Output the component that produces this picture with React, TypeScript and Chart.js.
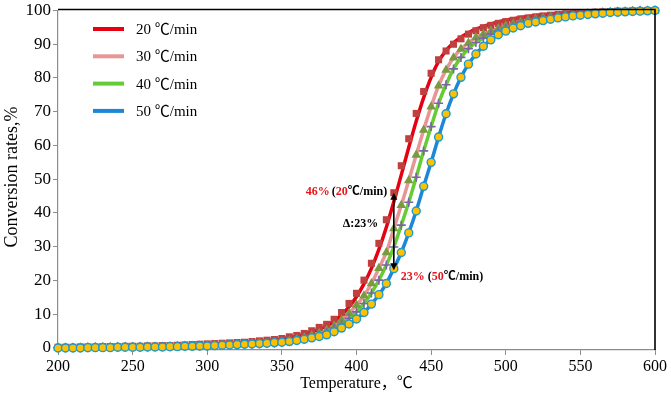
import React, { useEffect, useRef } from "react";
import { Chart, registerables } from "chart.js";

Chart.register(...registerables);

// ---------- data ----------
const temperatures = [
  200, 205, 210, 215, 220, 225, 230, 235, 240, 245, 250, 255, 260, 265, 270, 275, 280, 285, 290, 295, 300,
  305, 310, 315, 320, 325, 330, 335, 340, 345, 350, 355, 360, 365, 370, 375, 380, 385, 390, 395, 400,
  405, 410, 415, 420, 425, 430, 435, 440, 445, 450, 455, 460, 465, 470, 475, 480, 485, 490, 495, 500,
  505, 510, 515, 520, 525, 530, 535, 540, 545, 550, 555, 560, 565, 570, 575, 580, 585, 590, 595, 600,
];

// 20 ℃/min experimental (squares)
const rate20Exp = [
  0.2, 0.2, 0.2, 0.3, 0.3, 0.3, 0.4, 0.4, 0.4, 0.5, 0.5, 0.5, 0.6, 0.6, 0.7, 0.7, 0.8, 0.9, 1.0, 1.1, 1.2,
  1.3, 1.4, 1.5, 1.6, 1.7, 1.9, 2.1, 2.3, 2.5, 2.8, 3.3, 3.7, 4.3, 5.1, 6.1, 7.0, 8.5, 10.5, 13.2, 16.2,
  20.1, 25.1, 31, 38, 46, 54, 62, 69.5, 76, 81.4, 85.4, 88, 90, 91.6, 93, 94, 94.9, 95.6, 96.2, 96.7,
  97.1, 97.5, 97.8, 98.1, 98.4, 98.6, 98.8, 99, 99.1, 99.3, 99.4, 99.5, 99.6, 99.7, 99.8, 99.8, 99.9, 99.9, 100, 100,
];

// 20 ℃/min fitted line
const rate20Fit = [
  0.1, 0.1, 0.1, 0.2, 0.2, 0.2, 0.3, 0.3, 0.3, 0.4, 0.4, 0.4, 0.5, 0.5, 0.6, 0.6, 0.7, 0.8, 0.9, 1.0, 1.1,
  1.2, 1.3, 1.4, 1.5, 1.6, 1.8, 2.0, 2.2, 2.4, 2.7, 3.1, 3.5, 4.1, 4.8, 5.6, 6.5, 8.0, 9.8, 12.2, 15.2,
  19, 23.6, 29.2, 35.8, 43.3, 51.3, 59.4, 67.2, 74.2, 80.2, 84.9, 88.1, 90.4, 92.1, 93.4, 94.5, 95.3, 96, 96.6, 97.1,
  97.5, 97.9, 98.2, 98.5, 98.7, 98.9, 99.1, 99.2, 99.4, 99.5, 99.6, 99.7, 99.8, 99.8, 99.9, 99.9, 100, 100, 100, 100,
];

// 30 ℃/min (triangles + pink line)
const rate30 = [
  0.1, 0.1, 0.1, 0.1, 0.2, 0.2, 0.2, 0.2, 0.3, 0.3, 0.3, 0.3, 0.4, 0.4, 0.4, 0.5, 0.5, 0.6, 0.6, 0.7, 0.7,
  0.8, 0.9, 0.9, 1.0, 1.1, 1.2, 1.3, 1.4, 1.6, 1.8, 2.1, 2.5, 3.0, 3.6, 4.4, 5.3, 6.5, 8.3, 10.3, 12.7,
  15.5, 19.1, 23.6, 28.3, 35.4, 42.3, 49.6, 57.2, 64.6, 71.5, 77.7, 82.4, 86, 88.6, 90.4, 92, 93, 93.9, 94.7, 95.4,
  96, 96.5, 97, 97.4, 97.7, 98, 98.3, 98.5, 98.7, 98.9, 99.1, 99.2, 99.4, 99.5, 99.6, 99.7, 99.8, 99.9, 99.9, 100,
];

// 40 ℃/min (plus markers + green line)
const rate40 = [
  0.1, 0.1, 0.1, 0.1, 0.1, 0.2, 0.2, 0.2, 0.2, 0.3, 0.3, 0.3, 0.3, 0.4, 0.4, 0.4, 0.5, 0.5, 0.5, 0.6, 0.6,
  0.7, 0.8, 0.8, 0.9, 1.0, 1.1, 1.2, 1.3, 1.4, 1.6, 1.9, 2.2, 2.6, 3.1, 3.8, 4.6, 5.8, 7.1, 8.8, 10.7,
  13.2, 16.3, 20.1, 24.6, 29.9, 36.4, 43.2, 50.6, 58.4, 65.6, 72.5, 78, 82.7, 86.1, 88.7, 90.5, 91.8, 93, 93.9, 94.7,
  95.4, 96, 96.5, 97, 97.4, 97.8, 98.1, 98.4, 98.6, 98.8, 99, 99.2, 99.3, 99.5, 99.6, 99.7, 99.8, 99.9, 100, 100,
];

// 50 ℃/min (circles + blue line)
const rate50 = [
  0, 0, 0, 0, 0.1, 0.1, 0.1, 0.1, 0.2, 0.2, 0.2, 0.2, 0.3, 0.3, 0.3, 0.4, 0.4, 0.5, 0.5, 0.6, 0.6,
  0.7, 0.8, 0.9, 1.0, 1.1, 1.2, 1.3, 1.4, 1.6, 1.7, 1.9, 2.2, 2.6, 3.0, 3.4, 3.9, 4.8, 5.9, 7.1, 8.6,
  10.5, 13, 15.8, 19.1, 23.5, 28.3, 34.1, 40.6, 47.9, 55, 62.5, 69.4, 75.3, 80.2, 84.1, 87.1, 89.4, 91.3, 92.8, 93.9,
  94.8, 95.5, 96.2, 96.6, 97, 97.4, 97.8, 98.1, 98.4, 98.6, 98.8, 99, 99.2, 99.4, 99.5, 99.6, 99.7, 99.8, 99.9, 100,
];

const legendLabels = ["20 ℃/min", "30 ℃/min", "40 ℃/min", "50 ℃/min"];
const lineColors = ["#E60012", "#E89595", "#66CC33", "#1C87D6"];
const xTicks = [200, 250, 300, 350, 400, 450, 500, 550, 600];
const yTicks = [0, 10, 20, 30, 40, 50, 60, 70, 80, 90, 100];
const xTitle = "Temperature，℃";
const yTitle = "Conversion rates,%";
const annotTemp = 425;
const annotHigh = 46;
const annotLow = 23;

const SERIF = "'Liberation Serif', 'Times New Roman', 'Noto Sans CJK SC', serif";

function pts(values: number[]) {
  return temperatures.map((t, i) => ({ x: t, y: values[i] }));
}

function drawRuns(ctx: CanvasRenderingContext2D, x: number, y: number, runs: [string, string][]) {
  let cx = x;
  for (const [text, color] of runs) {
    ctx.fillStyle = color;
    ctx.fillText(text, cx, y);
    cx += ctx.measureText(text).width;
  }
}

const overlayPlugin = {
  id: "overlay",
  afterDraw(chart: any) {
    const { ctx, chartArea: a, scales } = chart;
    const xs = scales.x;
    const ys = scales.y;
    ctx.save();

    // top & right black frame
    ctx.strokeStyle = "#000";
    ctx.lineWidth = 1.6;
    ctx.beginPath();
    ctx.moveTo(a.left, a.top - 1);
    ctx.lineTo(a.right, a.top - 1);
    ctx.lineTo(a.right, a.bottom);
    ctx.stroke();

    // legend
    ctx.font = `15px ${SERIF}`;
    ctx.textBaseline = "middle";
    ctx.textAlign = "left";
    legendLabels.forEach((label, i) => {
      const ly = a.top + 18.5 + i * 27.3;
      ctx.strokeStyle = lineColors[i];
      ctx.lineWidth = 4;
      ctx.beginPath();
      ctx.moveTo(a.left + 35, ly);
      ctx.lineTo(a.left + 66, ly);
      ctx.stroke();
      ctx.fillStyle = "#000";
      ctx.fillText(label, a.left + 78, ly + 1);
    });

    // double-headed arrow
    const ax = xs.getPixelForValue(annotTemp);
    const y1 = ys.getPixelForValue(annotHigh);
    const y2 = ys.getPixelForValue(annotLow);
    ctx.strokeStyle = "#000";
    ctx.fillStyle = "#000";
    ctx.lineWidth = 1.6;
    ctx.beginPath();
    ctx.moveTo(ax, y1 + 5);
    ctx.lineTo(ax, y2 - 5);
    ctx.stroke();
    ctx.beginPath();
    ctx.moveTo(ax, y1);
    ctx.lineTo(ax - 3.5, y1 + 7);
    ctx.lineTo(ax + 3.5, y1 + 7);
    ctx.closePath();
    ctx.fill();
    ctx.beginPath();
    ctx.moveTo(ax, y2);
    ctx.lineTo(ax - 3.5, y2 - 7);
    ctx.lineTo(ax + 3.5, y2 - 7);
    ctx.closePath();
    ctx.fill();

    // annotation texts
    ctx.font = `bold 12px ${SERIF}`;
    ctx.textBaseline = "middle";
    const red = "#E8141C";
    drawRuns(ctx, ax - 88, y1 - 1, [[`${annotHigh}%`, red]]);
    drawRuns(ctx, ax - 62, y1 - 1, [["(", "#000"], ["20", red], ["℃/min)", "#000"]]);
    drawRuns(ctx, ax - 51, y1 + 31, [[`Δ:${annotHigh - annotLow}%`, "#000"]]);
    drawRuns(ctx, ax + 7, y2 + 7, [[`${annotLow}%`, red]]);
    drawRuns(ctx, ax + 34, y2 + 7, [["(", "#000"], ["50", red], ["℃/min)", "#000"]]);

    // axis titles
    ctx.fillStyle = "#000";
    ctx.textAlign = "center";
    ctx.font = `16px ${SERIF}`;
    ctx.fillText(xTitle, (a.left + a.right) / 2, 384);
    ctx.save();
    ctx.translate(12, 177);
    ctx.rotate(-Math.PI / 2);
    ctx.font = `18px ${SERIF}`;
    ctx.fillText(yTitle, 0, 0);
    ctx.restore();

    ctx.restore();
  },
};

export default function App() {
  const canvasRef = useRef<HTMLCanvasElement | null>(null);

  useEffect(() => {
    const canvas = canvasRef.current;
    if (!canvas) return;
    const lineBase = {
      type: "line" as const,
      showLine: true,
      pointRadius: 0,
      borderWidth: 3.5,
      tension: 0.25,
      fill: false,
      clip: false as any,
      order: 10,
    };
    const markerBase = {
      type: "line" as const,
      showLine: false,
      clip: false as any,
    };
    const chart = new Chart(canvas, {
      type: "line",
      data: {
        datasets: [
          { ...lineBase, label: "20 fit", data: pts(rate20Fit), borderColor: lineColors[0], order: 13 },
          { ...lineBase, label: "30 fit", data: pts(rate30), borderColor: lineColors[1], order: 12 },
          { ...lineBase, label: "40 fit", data: pts(rate40), borderColor: lineColors[2], order: 11 },
          { ...lineBase, label: "50 fit", data: pts(rate50), borderColor: lineColors[3], order: 10 },
          {
            ...markerBase, label: "20 exp", data: pts(rate20Exp), pointStyle: "rect", pointRadius: 5,
            backgroundColor: "#C0403F", borderColor: "#C0403F", pointBorderWidth: 0, order: 4,
          },
          {
            ...markerBase, label: "30 exp", data: pts(rate30), pointStyle: "triangle", pointRadius: 5.5,
            backgroundColor: "#7A9A41", borderColor: "#7A9A41", pointBorderWidth: 0, order: 3,
          },
          {
            ...markerBase, label: "40 exp", data: pts(rate40), pointStyle: "cross", pointRadius: 4.5,
            backgroundColor: "#7F63A8", borderColor: "#7F63A8", pointBorderWidth: 1.6, order: 2,
          },
          {
            ...markerBase, label: "50 exp", data: pts(rate50), pointStyle: "circle", pointRadius: 4,
            backgroundColor: "#FFC000", borderColor: "#1A9BD1", pointBorderWidth: 1.4, order: 1,
          },
        ] as any,
      },
      options: {
        animation: false,
        responsive: false,
        devicePixelRatio: 1,
        layout: { padding: { left: 0, right: 14, top: 10, bottom: 0 } },
        plugins: { legend: { display: false }, tooltip: { enabled: false } },
        scales: {
          x: {
            type: "linear",
            min: 200,
            max: 600,
            afterBuildTicks: (scale: any) => {
              scale.ticks = xTicks.map((v) => ({ value: v }));
            },
            afterFit: (scale: any) => {
              scale.height = 56;
            },
            grid: { display: true, drawOnChartArea: false, drawTicks: true, tickLength: 5, color: "#8C8C8C" },
            border: { display: true, color: "#8C8C8C", width: 1.2 },
            ticks: {
              color: "#000",
              font: { family: SERIF, size: 16, lineHeight: 1 },
              padding: 4,
              maxRotation: 0,
            },
          },
          y: {
            type: "linear",
            min: -0.6,
            max: 100,
            afterBuildTicks: (scale: any) => {
              scale.ticks = yTicks.map((v) => ({ value: v }));
            },
            afterFit: (scale: any) => {
              scale.width = 58;
            },
            grid: { display: true, drawOnChartArea: false, drawTicks: true, tickLength: 5, color: "#8C8C8C" },
            border: { display: true, color: "#8C8C8C", width: 1.2 },
            ticks: {
              color: "#000",
              font: { family: SERIF, size: 17, lineHeight: 1 },
              padding: 2,
            },
          },
        },
      },
      plugins: [overlayPlugin],
    });
    return () => chart.destroy();
  }, []);

  return (
    <div style={{ position: "fixed", left: 0, top: 0, width: 671, height: 406, background: "#fff" }}>
      <canvas ref={canvasRef} width={671} height={406} style={{ width: 671, height: 406 }} />
    </div>
  );
}
